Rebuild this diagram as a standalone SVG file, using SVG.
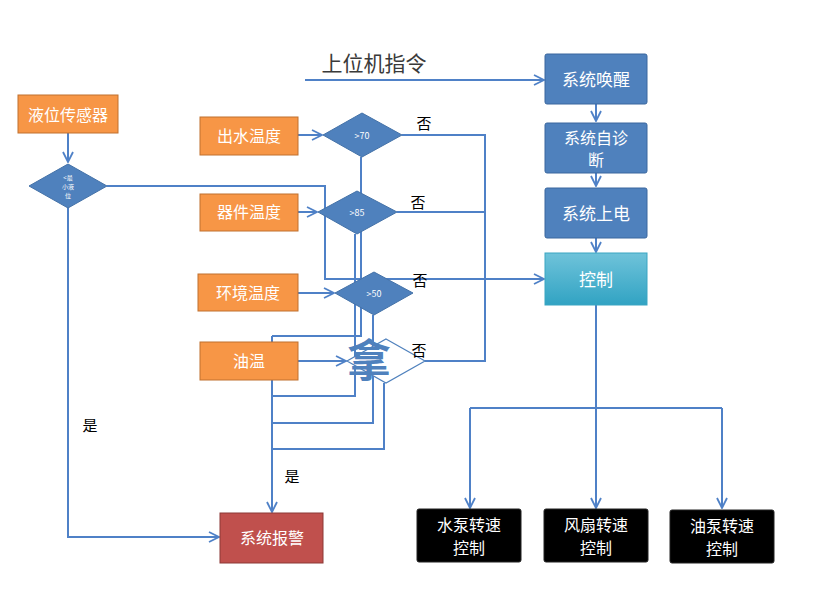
<svg xmlns="http://www.w3.org/2000/svg" width="834" height="602" viewBox="0 0 834 602">
<style>
.c{fill:none;stroke:#4F81C7;stroke-width:2}
.a{marker-end:url(#ar)}
.or{fill:#F79646;stroke:#C0712F;stroke-width:1}
.bl{fill:#4F81BD;stroke:#3A679E;stroke-width:1}
.dm{fill:#4F81BD;stroke:#4472A8;stroke-width:1}
.bk{fill:#000;stroke:#222;stroke-width:1}
.t{font-family:"Noto Sans CJK SC","Liberation Sans",sans-serif;fill:#fff;text-anchor:middle}
.l{font-family:"Noto Sans CJK SC","Liberation Sans",sans-serif;fill:#000;font-size:15px;text-anchor:middle}
</style>
<defs>
<marker id="ar" viewBox="0 0 12 12" refX="11" refY="6" markerWidth="12" markerHeight="12" markerUnits="userSpaceOnUse" orient="auto">
<path d="M1,1 L11,6 L1,11" fill="none" stroke="#4F81C7" stroke-width="1.8"/>
</marker>
<linearGradient id="cg" x1="0" y1="0" x2="0" y2="1">
<stop offset="0" stop-color="#6FC3DA"/>
<stop offset="1" stop-color="#31A3C3"/>
</linearGradient>
</defs>
<g id="connectors">
<path class="c a" d="M305,80 H544" stroke="#7FA3D3" stroke-width="1.5"/>
<path class="c a" d="M596,104 V121"/>
<path class="c a" d="M596,173 V186"/>
<path class="c a" d="M596,238 V252"/>
<path class="c a" d="M68,133 V162"/>
<path class="c a" d="M107,186 H325 V279 H544"/>
<path class="c a" d="M68,207 V537 H219"/>
<path class="c a" d="M298,135 H322"/>
<path class="c a" d="M298,212 H317"/>
<path class="c a" d="M298,293 H334"/>
<path class="c a" d="M298,361 H346"/>
<path class="c" d="M402,135 H485 V361 H425"/>
<path class="c" d="M397,212 H485"/>
<path class="c" d="M361,157 V336 H272"/>
<path class="c a" d="M272,336 V512"/>
<path class="c" d="M355,234 V396 H272"/>
<path class="c" d="M373,315 V423 H272"/>
<path class="c" d="M384,383 V449 H272"/>
<path class="c" d="M596,305 V408 M470,408 H722"/>
<path class="c a" d="M470,408 V508"/>
<path class="c a" d="M596,408 V508"/>
<path class="c a" d="M722,408 V508"/>
</g>
<text x="374" y="71" font-family="Noto Sans CJK SC,sans-serif" font-size="21" fill="#3a3a3a" text-anchor="middle">上位机指令</text>
<g id="n-wake"><rect class="bl" x="545" y="54" width="102" height="50" rx="2"/><text class="t" x="596" y="86" font-size="17">系统唤醒</text></g>
<g id="n-diag"><rect class="bl" x="545" y="123" width="102" height="50" rx="2"/><text class="t" x="596" y="144" font-size="16">系统自诊</text><text class="t" x="596" y="166" font-size="16">断</text></g>
<g id="n-power"><rect class="bl" x="545" y="188" width="102" height="50" rx="2"/><text class="t" x="596" y="220" font-size="17">系统上电</text></g>
<g id="n-ctrl"><rect x="545" y="253" width="102" height="52" fill="url(#cg)" stroke="#3AA5C2"/><text class="t" x="596" y="286" font-size="17">控制</text></g>
<g id="n-level"><rect class="or" x="18" y="95" width="100" height="38"/><text class="t" x="68" y="121" font-size="16">液位传感器</text></g>
<g id="d-level"><path class="dm" d="M68,164 L107,186 L68,208 L29,186 Z"/><text class="t" x="68" y="180" font-size="6">&lt;最</text><text class="t" x="68" y="189" font-size="6">小液</text><text class="t" x="68" y="198" font-size="6">位</text></g>
<g id="n-out"><rect class="or" x="200" y="117" width="98" height="38"/><text class="t" x="249" y="142" font-size="16">出水温度</text></g>
<g id="n-dev"><rect class="or" x="200" y="194" width="98" height="37"/><text class="t" x="249" y="218" font-size="16">器件温度</text></g>
<g id="n-env"><rect class="or" x="198" y="274" width="100" height="37"/><text class="t" x="248" y="299" font-size="16">环境温度</text></g>
<g id="n-oil"><rect class="or" x="200" y="342" width="98" height="38"/><text class="t" x="249" y="367" font-size="16">油温</text></g>
<g id="d70"><path class="dm" d="M362,113 L402,135 L362,157 L323,135 Z"/><text class="t" x="362" y="139" font-size="9">&gt;70</text></g>
<g id="d85"><path class="dm" d="M357,191 L397,212 L357,234 L318,212 Z"/><text class="t" x="357" y="216" font-size="9">&gt;85</text></g>
<g id="d50"><path class="dm" d="M374,272 L413,293 L374,315 L335,293 Z"/><text class="t" x="374" y="297" font-size="9">&gt;50</text></g>
<g id="d-oil"><path d="M386,339 L425,361 L386,383 L347,361 Z" fill="#fff" stroke="#4F81BD" stroke-width="1.2"/><text x="369" y="377" font-family="Noto Sans CJK SC,sans-serif" font-size="44" font-weight="bold" fill="#4F81BD" text-anchor="middle">拿</text></g>
<g id="n-alarm"><rect x="220" y="513" width="103" height="50" fill="#C0504D" stroke="#8C3836"/><text class="t" x="272" y="544" font-size="16">系统报警</text></g>
<g id="n-pump"><rect class="bk" x="417" y="509" width="104" height="53" rx="2"/><text class="t" x="469" y="531" font-size="16">水泵转速</text><text class="t" x="469" y="554" font-size="16">控制</text></g>
<g id="n-fan"><rect class="bk" x="544" y="509" width="104" height="53" rx="2"/><text class="t" x="596" y="531" font-size="16">风扇转速</text><text class="t" x="596" y="554" font-size="16">控制</text></g>
<g id="n-oilpump"><rect class="bk" x="670" y="510" width="104" height="53" rx="2"/><text class="t" x="722" y="532" font-size="16">油泵转速</text><text class="t" x="722" y="555" font-size="16">控制</text></g>
<text class="l" x="424" y="129">否</text>
<text class="l" x="418" y="208">否</text>
<text class="l" x="420" y="286">否</text>
<text class="l" x="419" y="356">否</text>
<text class="l" x="90" y="431">是</text>
<text class="l" x="292" y="482">是</text>
</svg>
